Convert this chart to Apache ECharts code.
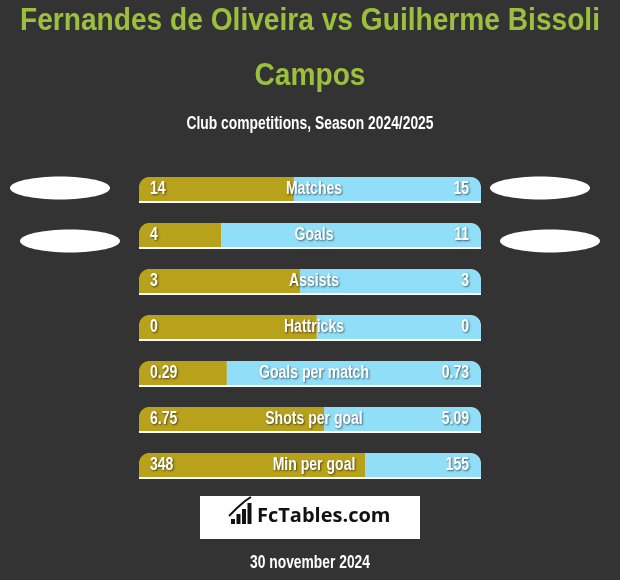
<!DOCTYPE html>
<html>
<head>
<meta charset="utf-8">
<script src="https://cdn.jsdelivr.net/npm/echarts@6/dist/echarts.min.js"></script>
<style>
html,body{margin:0;padding:0;background:#333333;}
#chart{width:620px;height:580px;}
</style>
</head>
<body>
<div id="chart"></div>
<script>
const titleLines = ['Fernandes de Oliveira vs Guilherme Bissoli', 'Campos'];
const subtitle = 'Club competitions, Season 2024/2025';
const dateText = '30 november 2024';
const categories = ['Matches', 'Goals', 'Assists', 'Hattricks', 'Goals per match', 'Shots per goal', 'Min per goal'];
const leftValues = ['14', '4', '3', '0', '0.29', '6.75', '348'];
const rightValues = ['15', '11', '3', '0', '0.73', '5.09', '155'];
const leftShare = [0.453, 0.240, 0.471, 0.520, 0.257, 0.541, 0.661];

const FONT = '"Liberation Sans", Arial, sans-serif';
const GOLD = '#b8a11b';
const BLUE = '#91def8';
const LABEL_SCALE = 0.78;

const ctx = document.createElement('canvas').getContext('2d');
function fitScale(text, font, width) {
  ctx.font = font;
  return width / ctx.measureText(text).width;
}
function shadowStyle() {
  return {textShadowColor: 'rgba(0,0,0,0.55)', textShadowBlur: 2, textShadowOffsetX: 1, textShadowOffsetY: 1};
}

const chart = echarts.init(document.getElementById('chart'));
const titleFont = 'bold 31px ' + FONT;
const subFont = 'bold 18px ' + FONT;
const titleScale = fitScale(titleLines[0], titleFont, 580);
const option = {
  backgroundColor: '#333333',
  animation: false,
  grid: {left: 139, top: 166, width: 342, height: 322, containLabel: false},
  xAxis: {type: 'value', min: 0, max: 1, show: false},
  yAxis: {type: 'category', data: categories, inverse: true, show: false},
  series: [
    {
      type: 'bar', name: 'bg', barWidth: 26, barGap: '-100%', silent: true,
      data: categories.map(() => 1),
      itemStyle: {color: '#ffffff', borderRadius: [12, 12, 0, 0]}
    },
    {
      type: 'bar', name: 'left', stack: 's', barWidth: 24, silent: true,
      data: leftShare,
      itemStyle: {color: GOLD, borderRadius: [10, 0, 0, 0]}
    },
    {
      type: 'bar', name: 'right', stack: 's', barWidth: 24, silent: true,
      data: leftShare.map(v => +(1 - v).toFixed(3)),
      itemStyle: {color: BLUE, borderRadius: [0, 10, 0, 0]}
    }
  ],
  graphic: [
    {type: 'text', x: 310, y: 21, scaleX: titleScale, z: 100,
      style: {text: titleLines[0], fill: '#9cc03e', font: titleFont, textAlign: 'center', textVerticalAlign: 'middle'}},
    {type: 'text', x: 310, y: 76, scaleX: titleScale, z: 100,
      style: {text: titleLines[1], fill: '#9cc03e', font: titleFont, textAlign: 'center', textVerticalAlign: 'middle'}},
    {type: 'text', x: 310, y: 124, scaleX: fitScale(subtitle, subFont, 247), z: 100,
      style: {text: subtitle, fill: '#ffffff', font: subFont, textAlign: 'center', textVerticalAlign: 'middle'}},
    {type: 'ellipse', shape: {cx: 60, cy: 188, rx: 50, ry: 11.5}, style: {fill: '#ffffff'}},
    {type: 'ellipse', shape: {cx: 70, cy: 241, rx: 50, ry: 11.5}, style: {fill: '#ffffff'}},
    {type: 'ellipse', shape: {cx: 540, cy: 188, rx: 50, ry: 11.5}, style: {fill: '#ffffff'}},
    {type: 'ellipse', shape: {cx: 550, cy: 241, rx: 50, ry: 11.5}, style: {fill: '#ffffff'}},
    {type: 'rect', shape: {x: 200, y: 496, width: 220, height: 43}, style: {fill: '#ffffff'}},
    {type: 'rect', shape: {x: 231, y: 519, width: 4, height: 5}, style: {fill: '#111'}},
    {type: 'rect', shape: {x: 236.5, y: 514, width: 4, height: 10}, style: {fill: '#111'}},
    {type: 'rect', shape: {x: 242, y: 509, width: 4, height: 15}, style: {fill: '#111'}},
    {type: 'rect', shape: {x: 247.5, y: 503, width: 4, height: 21}, style: {fill: '#111'}},
    {type: 'polyline', shape: {points: [[229, 516], [237, 508], [245, 501], [251, 497]]}, style: {stroke: '#111', lineWidth: 2, fill: null}},
    {type: 'text', x: 257, y: 516, z: 100,
      style: {text: 'FcTables.com', fill: '#111111', font: 'bold 20px "Open Sans", sans-serif', textAlign: 'left', textVerticalAlign: 'middle'}},
    {type: 'text', x: 310, y: 563, scaleX: fitScale(dateText, subFont, 120), z: 100,
      style: {text: dateText, fill: '#ffffff', font: subFont, textAlign: 'center', textVerticalAlign: 'middle'}}
  ]
};
chart.setOption(option);

// value and category labels placed through the chart's own axes
const labelFont = 'bold 18px ' + FONT;
const x0 = chart.convertToPixel({xAxisIndex: 0}, 0);
const x1 = chart.convertToPixel({xAxisIndex: 0}, 1);
const xm = chart.convertToPixel({xAxisIndex: 0}, 0.5);
const labels = [];
categories.forEach((c, i) => {
  const y = chart.convertToPixel({yAxisIndex: 0}, c);
  labels.push({type: 'text', x: x0 + 11, y: y, scaleX: LABEL_SCALE, z: 100, silent: true,
    style: Object.assign({text: leftValues[i], fill: '#fff', font: labelFont, textAlign: 'left', textVerticalAlign: 'middle'}, shadowStyle())});
  labels.push({type: 'text', x: x1 - 12, y: y, scaleX: LABEL_SCALE, z: 100, silent: true,
    style: Object.assign({text: rightValues[i], fill: '#fff', font: labelFont, textAlign: 'right', textVerticalAlign: 'middle'}, shadowStyle())});
  labels.push({type: 'text', x: xm + 4, y: y, scaleX: LABEL_SCALE, z: 100, silent: true,
    style: Object.assign({text: c, fill: '#fff', font: labelFont, textAlign: 'center', textVerticalAlign: 'middle'}, shadowStyle())});
});
chart.setOption({graphic: option.graphic.concat(labels)});
</script>
</body>
</html>
